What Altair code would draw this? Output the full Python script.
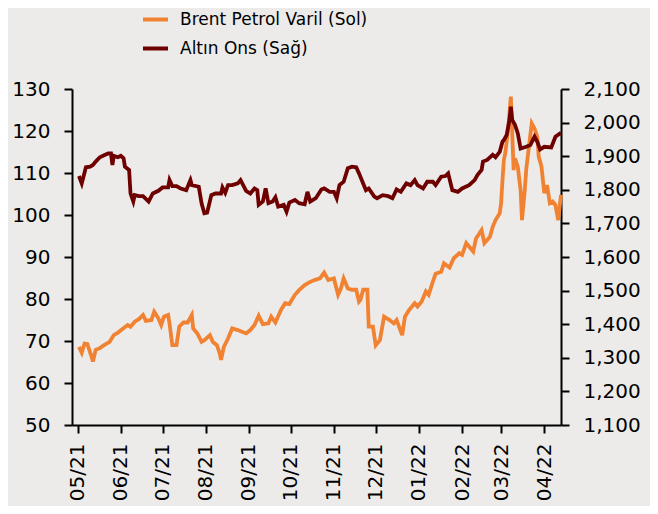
import altair as alt
import pandas as pd

series_names = ["Brent Petrol Varil (Sol)", "Altın Ons (Sağ)"]
series_colors = ["#F08232", "#6E0000"]

brent_dates = [
    "2021-05-02", "2021-05-04", "2021-05-06", "2021-05-08", "2021-05-11", "2021-05-12",
    "2021-05-14", "2021-05-17", "2021-05-20", "2021-05-24", "2021-05-27", "2021-05-30",
    "2021-06-02", "2021-06-06", "2021-06-08", "2021-06-11", "2021-06-14", "2021-06-17",
    "2021-06-19", "2021-06-23", "2021-06-25", "2021-06-28", "2021-06-30", "2021-07-02",
    "2021-07-05", "2021-07-06", "2021-07-08", "2021-07-11", "2021-07-13", "2021-07-16",
    "2021-07-19", "2021-07-22", "2021-07-23", "2021-07-26", "2021-07-29", "2021-07-31",
    "2021-08-04", "2021-08-06", "2021-08-09", "2021-08-11", "2021-08-12", "2021-08-14",
    "2021-08-17", "2021-08-20", "2021-08-24", "2021-08-27", "2021-08-30", "2021-09-02",
    "2021-09-05", "2021-09-08", "2021-09-11", "2021-09-15", "2021-09-17", "2021-09-20",
    "2021-09-24", "2021-09-27", "2021-09-30", "2021-10-04", "2021-10-07", "2021-10-11",
    "2021-10-14", "2021-10-18", "2021-10-22", "2021-10-25", "2021-10-28", "2021-11-01",
    "2021-11-04", "2021-11-06", "2021-11-08", "2021-11-11", "2021-11-14", "2021-11-17",
    "2021-11-19", "2021-11-20", "2021-11-22", "2021-11-25", "2021-11-26", "2021-11-29",
    "2021-12-01", "2021-12-04", "2021-12-07", "2021-12-11", "2021-12-14", "2021-12-16",
    "2021-12-20", "2021-12-22", "2021-12-25", "2021-12-29", "2021-12-31", "2022-01-03",
    "2022-01-06", "2022-01-08", "2022-01-11", "2022-01-13", "2022-01-17", "2022-01-19",
    "2022-01-23", "2022-01-26", "2022-01-30", "2022-02-01", "2022-02-04", "2022-02-06",
    "2022-02-09", "2022-02-11", "2022-02-15", "2022-02-17", "2022-02-21", "2022-02-23",
    "2022-02-25", "2022-02-28", "2022-03-01", "2022-03-02", "2022-03-03", "2022-03-04",
    "2022-03-06", "2022-03-07", "2022-03-08", "2022-03-09", "2022-03-10", "2022-03-11",
    "2022-03-13", "2022-03-15", "2022-03-16", "2022-03-18", "2022-03-19", "2022-03-21",
    "2022-03-23", "2022-03-25", "2022-03-27", "2022-03-28", "2022-03-30", "2022-04-01",
    "2022-04-03", "2022-04-05", "2022-04-07", "2022-04-09", "2022-04-11", "2022-04-13",
]
brent_values = [
    68.6, 67.2, 69.4, 69.3, 66.3, 65.1,
    67.9, 68.3, 69.0, 69.8, 71.4, 72.0,
    72.8, 73.8, 73.4, 74.6, 75.2, 76.2,
    74.8, 75.0, 77.0, 75.4, 73.8, 75.8,
    76.2, 74.2, 69.0, 69.0, 73.4, 74.4,
    74.4, 76.2, 73.0, 71.8, 69.8, 70.2,
    71.4, 69.8, 69.0, 67.1, 65.5, 68.6,
    70.6, 73.0, 72.6, 72.2, 71.8, 72.6,
    73.8, 76.0, 74.0, 74.2, 75.8, 74.4,
    77.4, 79.0, 78.8, 81.0, 82.1, 83.3,
    83.9, 84.5, 84.9, 86.3, 84.5, 84.9,
    81.0, 82.5, 84.9, 82.5, 82.2, 82.2,
    79.4, 79.8, 82.2, 82.2, 73.4, 73.4,
    69.0, 70.2, 75.8, 75.0, 74.2, 75.0,
    71.4, 75.8, 77.4, 79.0, 78.2, 79.4,
    81.8, 81.0, 84.1, 86.0, 86.5, 88.5,
    87.5, 89.7, 90.9, 90.5, 93.3, 92.5,
    91.3, 94.4, 96.4, 93.3, 94.8, 97.2,
    98.8, 100.4, 102.8, 108.3, 113.1, 114.7,
    120.2, 124.2, 128.2, 119.4, 110.7, 113.5,
    111.5, 105.9, 98.8, 105.9, 110.7, 116.3,
    121.8, 120.6, 118.6, 113.9, 111.5, 105.2,
    107.1, 102.8, 103.2, 102.4, 98.8, 104.8,
]

gold_dates = [
    "2021-05-02", "2021-05-04", "2021-05-07", "2021-05-10", "2021-05-12", "2021-05-14",
    "2021-05-17", "2021-05-20", "2021-05-23", "2021-05-25", "2021-05-26", "2021-05-27",
    "2021-05-30", "2021-06-01", "2021-06-03", "2021-06-04", "2021-06-07", "2021-06-08",
    "2021-06-10", "2021-06-11", "2021-06-14", "2021-06-17", "2021-06-21", "2021-06-24",
    "2021-06-28", "2021-07-01", "2021-07-05", "2021-07-06", "2021-07-08", "2021-07-11",
    "2021-07-14", "2021-07-18", "2021-07-21", "2021-07-22", "2021-07-27", "2021-07-29",
    "2021-07-31", "2021-08-02", "2021-08-05", "2021-08-08", "2021-08-12", "2021-08-13",
    "2021-08-15", "2021-08-17", "2021-08-20", "2021-08-24", "2021-08-26", "2021-08-30",
    "2021-09-02", "2021-09-05", "2021-09-07", "2021-09-08", "2021-09-11", "2021-09-13",
    "2021-09-15", "2021-09-18", "2021-09-20", "2021-09-22", "2021-09-26", "2021-09-28",
    "2021-09-30", "2021-10-04", "2021-10-07", "2021-10-11", "2021-10-13", "2021-10-15",
    "2021-10-19", "2021-10-23", "2021-10-25", "2021-10-29", "2021-11-01", "2021-11-03",
    "2021-11-05", "2021-11-08", "2021-11-11", "2021-11-14", "2021-11-17", "2021-11-19",
    "2021-11-22", "2021-11-24", "2021-11-26", "2021-11-30", "2021-12-02", "2021-12-06",
    "2021-12-10", "2021-12-13", "2021-12-16", "2021-12-19", "2021-12-23", "2021-12-26",
    "2021-12-29", "2021-12-31", "2022-01-04", "2022-01-07", "2022-01-11", "2022-01-13",
    "2022-01-17", "2022-01-20", "2022-01-22", "2022-01-25", "2022-01-29", "2022-02-01",
    "2022-02-06", "2022-02-10", "2022-02-12", "2022-02-15", "2022-02-16", "2022-02-19",
    "2022-02-23", "2022-02-25", "2022-02-28", "2022-03-02", "2022-03-03", "2022-03-05",
    "2022-03-07", "2022-03-08", "2022-03-09", "2022-03-11", "2022-03-13", "2022-03-15",
    "2022-03-19", "2022-03-22", "2022-03-25", "2022-03-27", "2022-03-29", "2022-04-01",
    "2022-04-06", "2022-04-09", "2022-04-13",
]
gold_values = [
    1841, 1819, 1867, 1869, 1874, 1884,
    1897, 1903, 1908, 1908, 1874, 1901,
    1897, 1901, 1894, 1869, 1859, 1789,
    1765, 1784, 1781, 1781, 1765, 1789,
    1797, 1807, 1807, 1829, 1811, 1811,
    1804, 1799, 1829, 1814, 1809, 1760,
    1730, 1732, 1784, 1789, 1789, 1807,
    1791, 1814, 1814, 1819, 1829, 1797,
    1789, 1804, 1799, 1755, 1765, 1804,
    1760, 1765, 1778, 1750, 1755, 1735,
    1762, 1770, 1760, 1757, 1794, 1765,
    1775, 1801, 1804, 1794, 1794, 1775,
    1814, 1824, 1864, 1869, 1867, 1849,
    1819, 1799, 1804, 1780, 1775, 1784,
    1781, 1775, 1801, 1794, 1819, 1814,
    1829, 1814, 1804, 1824, 1824, 1814,
    1839, 1841, 1849, 1799, 1794, 1804,
    1814, 1829, 1844, 1859, 1884, 1889,
    1904, 1897, 1913, 1943, 1948, 1963,
    2008, 2047, 2008, 1993, 1968, 1923,
    1928, 1933, 1958, 1943, 1920, 1928,
    1926, 1958, 1970,
]

left_ticks = [50, 60, 70, 80, 90, 100, 110, 120, 130]
right_ticks = [1100, 1200, 1300, 1400, 1500, 1600, 1700, 1800, 1900, 2000, 2100]
month_ticks = [(2021, 5), (2021, 6), (2021, 7), (2021, 8), (2021, 9), (2021, 10),
               (2021, 11), (2021, 12), (2022, 1), (2022, 2), (2022, 3), (2022, 4)]

FONT = "DejaVu Sans"

brent_df = pd.DataFrame({"date": brent_dates, "value": brent_values, "series": series_names[0]})
gold_df = pd.DataFrame({"date": gold_dates, "value": gold_values, "series": series_names[1]})

x_enc = alt.X(
    "date:T",
    scale=alt.Scale(
        type="utc",
        domain=[alt.DateTime(year=2021, month=4, date=27, utc=True),
                alt.DateTime(year=2022, month=4, date=13, utc=True)],
    ),
    axis=alt.Axis(
        title=None,
        values=[alt.DateTime(year=y, month=m, date=1, utc=True) for y, m in month_ticks],
        labelExpr="utcFormat(datum.value, '%m/%y')",
        labelAngle=270,
        labelPadding=10,
        tickSize=8,
        labelFlush=False,
        labelOverlap=False,
        labelBound=False,
    ),
)

color_enc = alt.Color(
    "series:N",
    scale=alt.Scale(domain=series_names, range=series_colors),
    legend=alt.Legend(
        title=None,
        orient="none",
        legendX=69,
        legendY=-84,
        direction="vertical",
        symbolType="stroke",
        symbolStrokeWidth=4,
        symbolSize=625,
        labelFont=FONT,
        labelFontSize=17,
        labelColor="black",
        labelOffset=10,
        labelLimit=400,
        rowPadding=6,
        padding=0,
    ),
)

brent = alt.Chart(brent_df).mark_line(strokeWidth=3.8).encode(
    x=x_enc,
    y=alt.Y(
        "value:Q",
        scale=alt.Scale(domain=[50, 130], nice=False, zero=False),
        axis=alt.Axis(title=None, values=left_ticks, format="d", orient="left",
                      tickSize=8, labelPadding=14),
    ),
    color=color_enc,
)

gold = alt.Chart(gold_df).mark_line(strokeWidth=3.8).encode(
    x=x_enc,
    y=alt.Y(
        "value:Q",
        scale=alt.Scale(domain=[1100, 2100], nice=False, zero=False),
        axis=alt.Axis(title=None, values=right_ticks, format=",d", orient="right",
                      tickSize=8, labelPadding=14),
    ),
    color=color_enc,
)

chart = (
    alt.layer(brent, gold)
    .resolve_scale(y="independent")
    .properties(
        width=489,
        height=336,
        padding={"left": 64, "top": 81, "right": 89, "bottom": 81},
        autosize=alt.AutoSizeParams(type="none"),
        background="#ECEBEA",
    )
    .configure_axis(
        domainColor="black",
        domainWidth=2,
        tickColor="black",
        tickWidth=2,
        labelColor="black",
        labelFont=FONT,
        labelFontSize=20,
        grid=False,
    )
    .configure_view(stroke=None)
)

chart.save("out.html", embed_options={"renderer": "svg", "actions": False})
